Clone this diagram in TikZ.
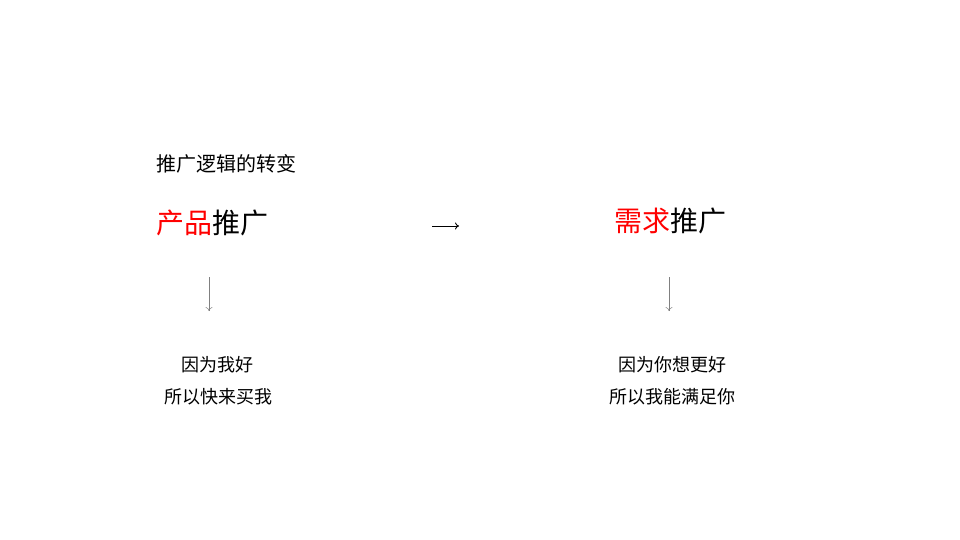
\documentclass[tikz,border=0pt]{standalone}
\usepackage{fontspec}
\setmainfont{Noto Sans CJK SC}
\usetikzlibrary{arrows.meta}
\definecolor{hired}{RGB}{255,0,0}
\tikzset{
 	title/.style={anchor=west, inner sep=0pt, font=\fontsize{20}{24}\selectfont},
 	head/.style={anchor=west, inner sep=0pt, font=\fontsize{28}{32}\selectfont},
 	body/.style={inner sep=0pt, font=\fontsize{18}{22}\selectfont},
}
\begin{document}
\begin{tikzpicture}[x=1pt, y=-1pt]
 		\useasboundingbox (0,0) rectangle (960,540);
 		\node[title] (T)  at (156,164) {推广逻辑的转变};
 		\node[head] (A)  at (156,223) {\textcolor{hired}{产品}推广};
 		\node[head] (B)  at (614,221) {\textcolor{hired}{需求}推广};
 		\node[body] (C)  at (217,365) {因为我好};
 		\node[body] (D)  at (218,397) {所以快来买我};
 		\node[body] (E)  at (672,365) {因为你想更好};
 		\node[body] (F)  at (672,397) {所以我能满足你};
 		
 		\coordinate (a1) at (432,226);
 		\coordinate (a2) at (459,226);
 		\coordinate (c1) at (209,277);
 		\coordinate (c2) at (209,311);
 		\coordinate (e1) at (669,277);
 		\coordinate (e2) at (669,311);
 		
 		\draw[-{To[length=4pt,width=7pt]}, line width=.9pt] (a1) -- (a2);
 		\draw[-{To[length=4pt,width=7pt]}, gray, line width=.5pt] (c1) -- (c2);
 		\draw[-{To[length=4pt,width=7pt]}, gray, line width=.5pt] (e1) -- (e2);
 		
\end{tikzpicture}
\end{document}
